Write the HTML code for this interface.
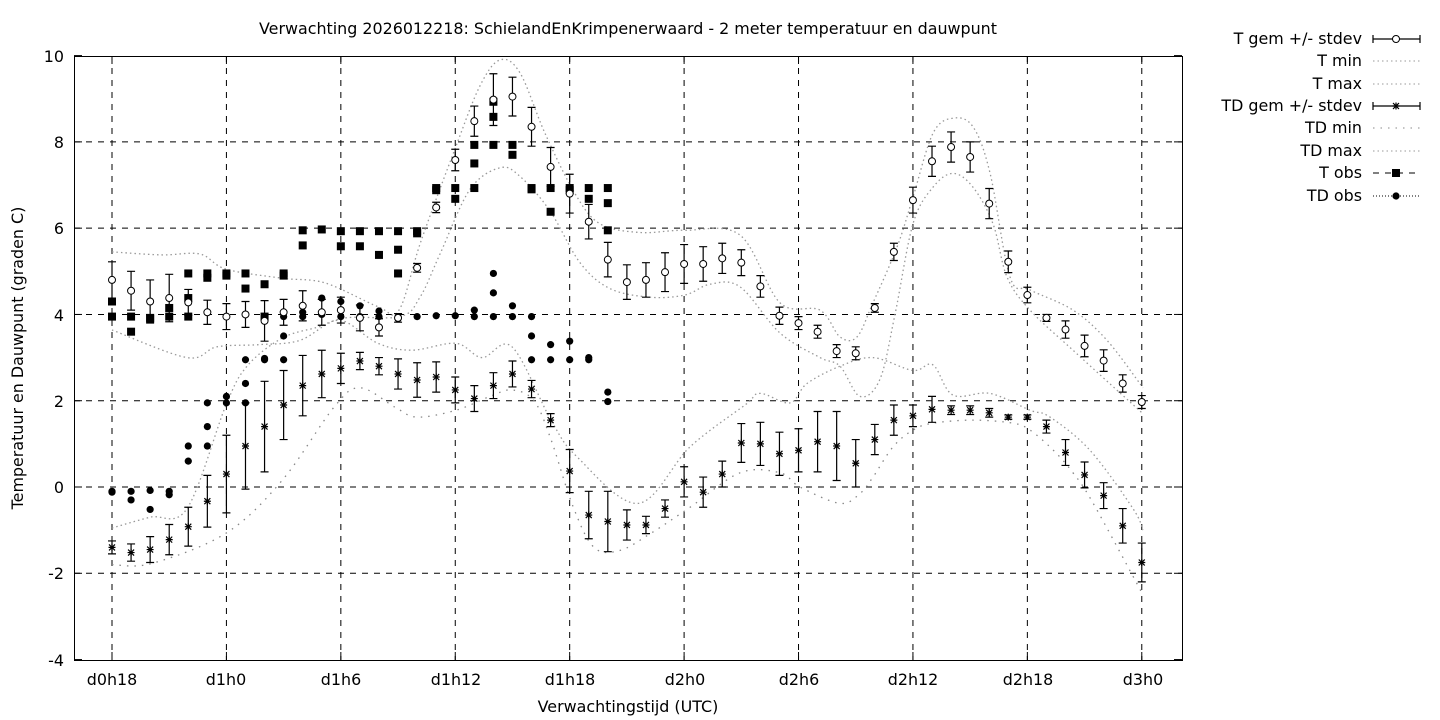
<!DOCTYPE html>
<html><head><meta charset="utf-8"><style>
html,body{margin:0;padding:0;background:#fff;}
svg{display:block;font-family:"DejaVu Sans","Liberation Sans",sans-serif;}
</style></head><body>
<svg id="s" width="1440" height="720" xmlns="http://www.w3.org/2000/svg">
<rect width="1440" height="720" fill="#fff"/>
<text x="628" y="34" font-size="15.9" text-anchor="middle">Verwachting 2026012218: SchielandEnKrimpenerwaard - 2 meter temperatuur en dauwpunt</text>
<g font-size="15.9" text-anchor="end">
<text x="64" y="62">10</text><text x="64" y="148">8</text><text x="64" y="234">6</text><text x="64" y="321">4</text>
<text x="64" y="407">2</text><text x="64" y="493">0</text><text x="64" y="579">-2</text><text x="64" y="666">-4</text>
</g>
<g font-size="15.9" text-anchor="middle">
<text x="112" y="685">d0h18</text><text x="226" y="685">d1h0</text><text x="341" y="685">d1h6</text><text x="456" y="685">d1h12</text>
<text x="570" y="685">d1h18</text><text x="685" y="685">d2h0</text><text x="799" y="685">d2h6</text><text x="913" y="685">d2h12</text>
<text x="1028" y="685">d2h18</text><text x="1143" y="685">d3h0</text>
<text x="628" y="712">Verwachtingstijd (UTC)</text>
</g>
<text transform="translate(23,358) rotate(-90)" font-size="15.9" text-anchor="middle">Temperatuur en Dauwpunt (graden C)</text>
<g font-size="15.9" text-anchor="end">
<text x="1362" y="44">T gem +/- stdev</text><text x="1362" y="66">T min</text><text x="1362" y="89">T max</text>
<text x="1362" y="111">TD gem +/- stdev</text><text x="1362" y="133">TD min</text><text x="1362" y="156">TD max</text>
<text x="1362" y="178">T obs</text><text x="1362" y="201">TD obs</text>
</g>
<g id="g"></g>
</svg>
<script>
var g=document.getElementById('g'),h='';
function X(i){return 112+i*19.07;}function Y(v){return 487-v*43.14;}
for(var v=-2;v<=8;v+=2)h+='<line x1="74" x2="1182" y1="'+Y(v)+'" y2="'+Y(v)+'" stroke="#000" stroke-dasharray="6,6" stroke-width="1"/>';
for(var k=0;k<10;k++){var x=112+k*114.42;h+='<line x1="'+x+'" x2="'+x+'" y1="56" y2="660" stroke="#000" stroke-dasharray="6,6" stroke-width="1"/>';}
h+='<rect x="74.5" y="56.5" width="1108" height="604" fill="none" stroke="#000"/>';
for(v=-4;v<=10;v+=2){h+='<line x1="74" x2="82" y1="'+Y(v)+'" y2="'+Y(v)+'" stroke="#000"/><line x1="1174" x2="1182" y1="'+Y(v)+'" y2="'+Y(v)+'" stroke="#000"/>';}
for(k=0;k<10;k++){var x=112+k*114.42;h+='<line x1="'+x+'" x2="'+x+'" y1="660" y2="652" stroke="#000"/><line x1="'+x+'" x2="'+x+'" y1="56" y2="64" stroke="#000"/>';}
function curve(p,dash,col){var P=p.map(function(q){return [q[0],Y(q[1])];});
 var s='M'+P[0][0]+','+P[0][1];
 for(var j=0;j<P.length-1;j++){var p0=P[Math.max(j-1,0)],p1=P[j],p2=P[j+1],p3=P[Math.min(j+2,P.length-1)];
  var c1=[p1[0]+(p2[0]-p0[0])/6,p1[1]+(p2[1]-p0[1])/6],c2=[p2[0]-(p3[0]-p1[0])/6,p2[1]-(p3[1]-p1[1])/6];
  s+='C'+c1[0].toFixed(1)+','+c1[1].toFixed(1)+' '+c2[0].toFixed(1)+','+c2[1].toFixed(1)+' '+p2[0].toFixed(1)+','+p2[1].toFixed(1);}
 h+='<path d="'+s+'" fill="none" stroke="'+col+'" stroke-width="1.3" stroke-dasharray="'+dash+'"/>';}
var tmax=[[112,5.45],[161,5.38],[200,5.4],[226,5.05],[282,4.84],[325,4.73],[378,4.18],[399,4.1],[421,5.7],[456,7.9],[480,9.3],[500,9.9],[520,9.6],[545,8.2],[575,6.8],[600,6.1],[640,5.9],[685,5.95],[740,5.84],[780,4.27],[820,4.1],[840,3.48],[857,3.48],[873,4.27],[897,5.56],[913,6.72],[933,8.2],[953,8.55],[973,8.35],[990,7.28],[1010,4.87],[1030,4.57],[1073,4.1],[1107,3.4],[1143,2.3]];
var tmin=[[112,3.64],[187,3.0],[217,3.25],[260,3.3],[300,3.4],[340,3.9],[400,3.95],[420,4.4],[440,5.4],[470,6.9],[500,7.4],[520,7.2],[550,6.4],[580,5.2],[610,4.6],[650,4.4],[685,4.45],[710,4.7],[740,4.64],[780,3.57],[820,3.0],[840,2.8],[860,2.1],[880,2.5],[895,4.0],[913,6.1],[933,6.95],[953,7.27],[973,6.95],[993,6.1],[1007,4.87],[1030,4.1],[1073,3.17],[1143,1.7]];
var dmax=[[112,-0.95],[150,-0.7],[187,-0.5],[226,1.9],[247,2.8],[282,3.45],[317,3.7],[343,3.85],[378,3.33],[412,3.17],[456,3.33],[482,3.0],[512,3.25],[551,1.55],[577,0.7],[638,-0.38],[690,0.93],[745,1.9],[760,2.17],[790,1.95],[807,2.4],[840,2.8],[873,3.0],[913,2.7],[933,2.83],[953,2.13],[990,2.17],[1030,1.78],[1050,1.62],[1090,0.85],[1133,-0.5],[1143,-1.0]];
var dmin=[[112,-1.8],[152,-1.77],[226,-1.07],[282,0.15],[334,1.85],[360,2.3],[395,1.85],[417,1.62],[456,1.78],[490,2.1],[512,2.25],[534,2.0],[551,1.1],[573,-0.45],[594,-1.4],[620,-1.47],[651,-1.07],[690,-0.47],[740,0.33],[780,0.33],[800,0],[840,-0.38],[860,-0.15],[873,0.23],[893,0.93],[913,1.32],[933,1.48],[973,1.55],[1013,1.48],[1030,1.32],[1053,0.86],[1073,0.33],[1093,-0.37],[1143,-2.5]];
curve(tmax,'1.5,3','#999');curve(tmin,'1.5,3','#999');curve(dmax,'1.5,3','#999');curve(dmin,'1.5,6','#888');
var T=[4.8,4.55,4.3,4.38,4.28,4.05,3.95,4.0,3.85,4.05,4.2,4.05,4.1,3.92,3.7,3.92,5.08,6.48,7.58,8.48,8.98,9.05,8.35,7.42,6.8,6.15,5.27,4.75,4.8,4.98,5.17,5.17,5.3,5.2,4.65,3.97,3.8,3.6,3.15,3.1,4.15,5.45,6.65,7.55,7.88,7.65,6.57,5.22,4.45,3.92,3.65,3.27,2.93,2.4,1.97];
var TS=[0.42,0.45,0.5,0.55,0.3,0.28,0.3,0.3,0.47,0.3,0.35,0.3,0.3,0.3,0.2,0.1,0.1,0.12,0.25,0.35,0.6,0.45,0.45,0.45,0.45,0.4,0.4,0.4,0.4,0.45,0.45,0.4,0.35,0.3,0.25,0.2,0.15,0.15,0.15,0.15,0.1,0.2,0.3,0.35,0.35,0.35,0.35,0.25,0.18,0.08,0.2,0.25,0.25,0.2,0.15];
var D=[-1.4,-1.52,-1.45,-1.22,-0.92,-0.33,0.3,0.95,1.4,1.9,2.35,2.62,2.75,2.92,2.8,2.62,2.48,2.55,2.25,2.05,2.35,2.62,2.27,1.55,0.37,-0.65,-0.8,-0.88,-0.88,-0.5,0.12,-0.12,0.3,1.02,1.0,0.77,0.85,1.05,0.95,0.55,1.1,1.55,1.65,1.8,1.78,1.78,1.72,1.62,1.62,1.4,0.8,0.28,-0.2,-0.9,-1.75];
var DS=[0.15,0.2,0.3,0.35,0.45,0.6,0.9,1.0,1.05,0.8,0.7,0.55,0.35,0.2,0.2,0.35,0.4,0.35,0.3,0.3,0.3,0.3,0.2,0.15,0.5,0.55,0.7,0.35,0.2,0.2,0.35,0.35,0.3,0.45,0.5,0.5,0.5,0.7,0.8,0.55,0.35,0.35,0.25,0.3,0.1,0.1,0.1,0.05,0.05,0.15,0.3,0.3,0.3,0.4,0.45];
function eb(i,v,s){var x=X(i),a=Y(v+s),b=Y(v-s);h+='<path d="M'+x+','+a+'V'+b+'M'+(x-4)+','+a+'h8M'+(x-4)+','+b+'h8" stroke="#000" stroke-width="1.2" fill="none"/>';}
function circ(x,y){h+='<circle cx="'+x+'" cy="'+y+'" r="3.5" fill="#fff" stroke="#000" stroke-width="1"/>';}
function star(x,y){h+='<path d="M'+(x-3.5)+','+y+'h7M'+x+','+(y-3.5)+'v7M'+(x-3)+','+(y-3)+'l6,6M'+(x+3)+','+(y-3)+'l-6,6" stroke="#000" stroke-width="1.2"/>';}
for(var i=0;i<T.length;i++){eb(i,T[i],TS[i]);}
for(i=0;i<D.length;i++){eb(i,D[i],DS[i]);star(X(i),Y(D[i]));}
var TO=[[4.3,3.95],[3.95,3.6],[3.92,3.9],[3.95,4.15],[4.95,4.38,3.95],[4.95,4.85],[4.95,4.9],[4.95,4.6],[4.7,3.95],[4.95,4.9],[5.95,5.6],[5.97],[5.93,5.58],[5.93,5.58],[5.93,5.38],[5.93,5.5,4.95],[5.93,5.88],[6.93,6.88],[6.93,6.68],[7.93,7.5,6.93],[8.93,8.58,7.93],[7.93,7.7],[6.93,6.9],[6.93,6.38],[6.93,6.88],[6.93,6.68],[6.93,6.58,5.95]];
var DO=[[-0.1,-0.12],[-0.1,-0.3],[-0.08,-0.52],[-0.1,-0.18],[0.95,0.6],[1.95,1.4,0.95],[2.1,1.95],[2.95,2.4,1.95],[2.95,2.98],[3.95,3.5,2.95],[4.05,3.95],[4.38,4.0],[4.3,3.95],[4.2,3.95],[4.08,3.95],[3.95,3.9],[3.95],[3.97],[3.97],[4.1,3.95],[4.95,4.5,3.95],[4.2,3.95],[3.95,3.5,2.95],[3.3,2.95],[3.38,2.95],[3.0,2.95],[2.2,1.98]];
for(i=0;i<TO.length;i++)for(var j=0;j<TO[i].length;j++)h+='<rect x="'+(X(i)-4)+'" y="'+(Y(TO[i][j])-4)+'" width="8" height="8" fill="#000"/>';
for(i=0;i<DO.length;i++)for(j=0;j<DO[i].length;j++)h+='<circle cx="'+X(i)+'" cy="'+Y(DO[i][j])+'" r="3.6" fill="#000"/>';
for(i=0;i<T.length;i++)circ(X(i),Y(T[i]));
var ly=[39,61,84,106,128,151,173,196];
h+='<path d="M1373,'+ly[0]+'h47M1373,'+(ly[0]-4)+'v8M1420,'+(ly[0]-4)+'v8" stroke="#000" stroke-width="1.2"/>';circ(1396,ly[0]);
h+='<path d="M1373,'+ly[3]+'h47M1373,'+(ly[3]-4)+'v8M1420,'+(ly[3]-4)+'v8" stroke="#000" stroke-width="1.2"/>';star(1396,ly[3]);
[1,2,5].forEach(function(k){h+='<line x1="1373" x2="1420" y1="'+ly[k]+'" y2="'+ly[k]+'" stroke="#999" stroke-dasharray="1.5,3"/>';});
h+='<line x1="1373" x2="1420" y1="'+ly[4]+'" y2="'+ly[4]+'" stroke="#888" stroke-dasharray="1.5,6"/>';
h+='<line x1="1373" x2="1420" y1="'+ly[6]+'" y2="'+ly[6]+'" stroke="#000" stroke-dasharray="6,6"/><rect x="1392" y="'+(ly[6]-4)+'" width="8" height="8"/>';
h+='<line x1="1373" x2="1420" y1="'+ly[7]+'" y2="'+ly[7]+'" stroke="#000" stroke-dasharray="1,2"/><circle cx="1396" cy="'+ly[7]+'" r="3.6"/>';
g.innerHTML=h;
</script>
</body></html>
